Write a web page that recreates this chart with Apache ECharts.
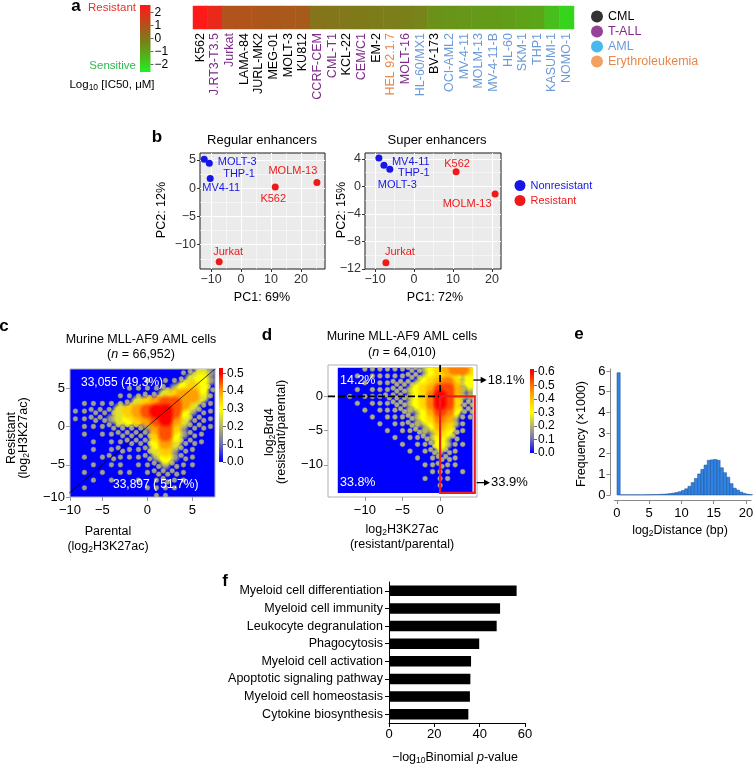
<!DOCTYPE html>
<html><head><meta charset="utf-8">
<script src="https://cdn.jsdelivr.net/npm/echarts@6.0.0/dist/echarts.min.js"></script>
<style>html,body{margin:0;padding:0;background:#fff;}#chart{width:754px;height:767px;}</style>
</head><body><div id="chart"></div>
<script>
// ================= DATA =================
// Panel a
const aCellLines = ['K562','J.RT3-T3.5','Jurkat','LAMA-84','JURL-MK2','MEG-01','MOLT-3','KU812','CCRF-CEM','CML-T1','KCL-22','CEM/C1','EM-2','HEL 92.1.7','MOLT-16','HL-60/MX1','BV-173','OCI-AML2','MV-4-11','MOLM-13','MV-4-11-B','HL-60','SKM-1','THP1','KASUMI-1','NOMO-1'];
const aLog10IC50 = [2.5,2.1,1.0,0.95,0.9,0.85,0.8,0.75,0.1,0.05,0.0,-0.05,-0.1,-0.15,-0.2,-0.3,-0.6,-0.7,-0.75,-0.8,-0.85,-0.9,-1.0,-1.1,-1.6,-2.0];
const aSubtype = ['CML','T-ALL','T-ALL','CML','CML','CML','CML','CML','T-ALL','T-ALL','CML','T-ALL','CML','Erythroleukemia','T-ALL','AML','CML','AML','AML','AML','AML','AML','AML','AML','AML','AML'];
const aSubtypeNames = ['CML','T-ALL','AML','Erythroleukemia'];
const aBarTicks = [2,1,0,-1,-2];

// Panel b
const bRegNames = ['THP-1','MOLT-3','MV4-11','MOLM-13','K562','Jurkat'];
const bRegPC1 = [-12.3,-10.6,-10.3,25.3,11.4,-7.3];
const bRegPC2 = [5.1,4.4,1.7,1.0,0.2,-13.0];
const bRegGroup = ['Nonresistant','Nonresistant','Nonresistant','Resistant','Resistant','Resistant'];
const bSupNames = ['MV4-11','THP-1','MOLT-3','K562','MOLM-13','Jurkat'];
const bSupPC1 = [-9.0,-7.7,-6.2,10.8,20.8,-7.2];
const bSupPC2 = [4.15,3.1,2.5,2.15,-1.1,-11.1];
const bSupGroup = ['Nonresistant','Nonresistant','Nonresistant','Resistant','Resistant','Resistant'];

// Panel c : density (levels 0-9), rows top (y=7) to bottom (y=-9)
const cXCenters = [-8,-7,-6,-5,-4,-3,-2,-1,0,1,2,3,4,5,6,7];
const cYCenters = [7,6,5,4,3,2,1,0,-1,-2,-3,-4,-5,-6,-7,-8,-9];
const cDensityRows = [
  '0000000000001243',
  '0000000010112453',
  '0000001111235652',
  '0000011122467741',
  '0111112467887421',
  '1122246789985321',
  '1122345678974221',
  '0111222237863221',
  '0101122226853210',
  '0010112225742210',
  '0010121124632100',
  '0101211123532100',
  '0010110112321100',
  '0101011012221000',
  '0010100101211000',
  '0100000011110000',
  '0000000001100000'
];
const cLevelValue = [0,0.05,0.1,0.2,0.26,0.3,0.35,0.4,0.45,0.5];
const cXTicks = [-10,-5,0,5];
const cYTicks = [5,0,-5,-10];
const cBarTicks = [0,0.1,0.2,0.3,0.4,0.5];
const cCounts = ['33,055 (49.3%)','33,897 ( 51.7%)'];
const cIdentity = [-10,10];

// Panel d : density rows top (y=4) to bottom (y=-14), columns x=-13..4
const dXCenters = [-13,-12,-11,-10,-9,-8,-7,-6,-5,-4,-3,-2,-1,0,1,2,3,4];
const dYCenters = [4,3,2,1,0,-1,-2,-3,-4,-5,-6,-7,-8,-9,-10,-11,-12,-13,-14];
const dDensityRows = [
  '000111111223456775',
  '001011111223455434',
  '000101122234567534',
  '001011122345688633',
  '010111222345798533',
  '001011122345798522',
  '000101112334687422',
  '000010111234576311',
  '000001011233465310',
  '000000101123354210',
  '000000010112343200',
  '000000001011243110',
  '000000000101232100',
  '000000000010122100',
  '000000000001121100',
  '000000000000111010',
  '000000000001011000',
  '000000000000010000',
  '000000000000000000'
];
const dLevelValue = [0,0.06,0.12,0.24,0.3,0.36,0.42,0.48,0.54,0.6];
const dXTicks = [-10,-5,0];
const dYTicks = [0,-5,-10];
const dBarTicks = [0,0.1,0.2,0.3,0.4,0.5,0.6];
const dCornerPct = ['14.2%','33.8%'];
const dArrowPct = ['18.1%','33.9%'];

// Panel e : histogram, bin width 0.5
const eBinWidth = 0.5;
const eBinStart = [0,0.5,1,1.5,2,2.5,3,3.5,4,4.5,5,5.5,6,6.5,7,7.5,8,8.5,9,9.5,10,10.5,11,11.5,12,12.5,13,13.5,14,14.5,15,15.5,16,16.5,17,17.5,18,18.5,19,19.5,20,20.5];
const eFreq = [5.92,0.01,0.01,0.01,0.01,0.01,0.01,0.01,0.01,0.015,0.015,0.02,0.025,0.03,0.04,0.05,0.07,0.09,0.12,0.16,0.22,0.3,0.42,0.6,0.8,1.02,1.24,1.45,1.68,1.7,1.72,1.68,1.32,1.08,0.86,0.55,0.33,0.24,0.14,0.08,0.04,0.02];
const eXTicks = [0,5,10,15,20];
const eYTicks = [0,1,2,3,4,5,6];

// Panel f
const fTerms = ['Myeloid cell differentiation','Myeloid cell immunity','Leukocyte degranulation','Phagocytosis','Myeloid cell activation','Apoptotic signaling pathway','Myeloid cell homeostasis','Cytokine biosynthesis'];
const fNegLog10P = [56.3,49.0,47.5,39.8,36.2,35.9,35.7,35.0];

// ================= STYLE / LAYOUT =================
const FONT = '"Liberation Sans", Arial, Helvetica, sans-serif';
const minus = v => (v < 0 ? '\u2212' + String(Math.abs(v)) : String(v));
const clamp = (v, lo, hi) => Math.min(hi, Math.max(lo, v));
function tickSet(ticks, range, fmt) {
  const pos = ticks.map(t => clamp(t, range[0], range[1]));
  return { pos, fmt: v => { let b = 0; pos.forEach((p, i) => { if (Math.abs(p - v) < Math.abs(pos[b] - v)) b = i; }); return (fmt || minus)(ticks[b]); } };
}

const R = {
  aBar: { y: [-2.6, 2.6] },
  bReg: { x: [-13.7, 28], y: [-14.3, 6.2] },
  bSup: { x: [-12.56, 22.31], y: [-12, 4.87] },
  c: { x: [-8.6, 7.5], y: [-9.2, 7.5] },
  cBar: { y: [0, 0.53] },
  dFrame: { x: [-14.9, 4.9], y: [-14.7, 4.6] },
  dBlue: { x: [-13.6, 4.3], y: [-14.1, 4.2] },
  dBar: { y: [0, 0.62] },
  e: { x: [-0.4, 20.8], y: [0, 6.1] },
  f: { x: [0, 60] }
};
const G = {
  aHeat: { left: 193, top: 6, width: 381, height: 23 },
  aBar: { left: 140, top: 5, width: 10.5, height: 67 },
  bReg: { left: 200, top: 153, width: 125, height: 116 },
  bSup: { left: 365, top: 153, width: 136, height: 116 },
  c: { left: 70, top: 369, width: 145, height: 128 },
  cBar: { left: 219, top: 368, width: 4, height: 94 },
  dFrame: { left: 328, top: 365, width: 149, height: 132 },
  dBar: { left: 530, top: 369, width: 4, height: 84 },
  e: { left: 614.4, top: 369, width: 136.7, height: 126 },
  f: { left: 389, top: 582, width: 136, height: 141 }
};
(function () {
  const f = G.dFrame, rx = R.dFrame.x, ry = R.dFrame.y, bx = R.dBlue.x, by = R.dBlue.y;
  const kx = f.width / (rx[1] - rx[0]), ky = f.height / (ry[1] - ry[0]);
  G.dBlue = { left: f.left + (bx[0] - rx[0]) * kx, top: f.top + (ry[1] - by[1]) * ky, width: (bx[1] - bx[0]) * kx, height: (by[1] - by[0]) * ky };
})();

const aStops = [[-2.5,'#22ee22'],[-1.25,'#56ac18'],[0,'#80781a'],[1.25,'#bf481c'],[2.5,'#ff1a1a']];
const cColors = ['#0000ff','#6e6eb4','#b4b46e','#ffff00','#ffa000','#ff0000'];
const dColors = ['#0000ff','#6e6eb4','#b4b46e','#ffff00','#ffc000','#ff7000','#ff0000'];
const subtypeLabelColor = { 'CML': '#000000', 'T-ALL': '#7f2a8a', 'AML': '#6a9ad8', 'Erythroleukemia': '#e8874a' };
const subtypeDotColor = { 'CML': '#000000', 'T-ALL': '#7d127d', 'AML': '#18a8ea', 'Erythroleukemia': '#ef8a3e' };
const bColor = { 'Nonresistant': '#1616e8', 'Resistant': '#ee1a1a' };
const bLabelPlacement = {
  reg: { 'THP-1': ['right', [10.5, 15]], 'MOLT-3': ['right', [0, -1]], 'MV4-11': ['bottom', [11, -4]], 'MOLM-13': ['top', [-24, 3]], 'K562': ['bottom', [-2, -2]], 'Jurkat': ['top', [9, 4]] },
  sup: { 'MV4-11': ['right', [4.5, 4]], 'THP-1': ['right', [5.5, 8]], 'MOLT-3': ['bottom', [7.5, 1.5]], 'K562': ['top', [1, 6]], 'MOLM-13': ['bottom', [-28, -4.5]], 'Jurkat': ['top', [14, 3.5]] }
};

// ================= BUILDERS =================
function gridOf(g, extra) { return Object.assign({ containLabel: false, outerBoundsMode: 'none', show: false, z: 0 }, g, extra || {}); }
function hiddenVal(gi, range) { return { type: 'value', gridIndex: gi, min: range[0], max: range[1], show: false, axisLine: { show: false, onZero: false }, splitLine: { show: false } }; }

function densityData(rows, xs, ys, lvVal) {
  const out = [];
  rows.forEach((row, r) => { for (let k = 0; k < row.length; k++) { const lv = +row[k]; if (lv > 0) out.push([xs[k], ys[r], lvVal[lv], lv]); } });
  return out.sort((a, b) => a[3] - b[3]);
}
function densityRender(dotFill, dotStroke) {
  return function (params, api) {
    const x = api.value(0), y = api.value(1), lv = api.value(3);
    const c = api.coord([x, y]);
    const s = api.size([1, 1]);
    if (lv <= 2) {
      const offs = lv === 1 ? [[0, 0]] : [[-0.25, -0.22], [0.25, 0.22]];
      return { type: 'group', children: offs.map(o => ({ type: 'circle', shape: { cx: c[0] + o[0] * s[0], cy: c[1] + o[1] * s[1], r: 2.4 }, style: { fill: dotFill, stroke: dotStroke, lineWidth: 0.7 } })) };
    }
    const col = api.visual('color');
    const k = lv === 3 ? 0.85 : 1.25;
    const clear = echarts.color.modifyAlpha(col, 0);
    const fill = { type: 'radial', x: 0.5, y: 0.5, r: 0.5, colorStops: [
      { offset: 0, color: col }, { offset: lv === 3 ? 0.35 : 0.5, color: col }, { offset: 1, color: clear } ] };
    return { type: 'ellipse', shape: { cx: c[0], cy: c[1], rx: s[0] * k, ry: s[1] * k }, style: { fill, opacity: lv === 3 ? 0.85 : 1 } };
  };
}
function colorbarRender(stops, vmin, vmax) {
  return function (params, api) {
    const p0 = api.coord([0, vmax]), p1 = api.coord([1, vmin]);
    const colorStops = stops.map(s => ({ offset: clamp((vmax - s[0]) / (vmax - vmin), 0, 1), color: s[1] })).sort((a, b) => a.offset - b.offset);
    colorStops.unshift({ offset: 0, color: colorStops[0].color });
    colorStops.push({ offset: 1, color: colorStops[colorStops.length - 1].color });
    return { type: 'rect', shape: { x: p0[0], y: p0[1], width: p1[0] - p0[0], height: p1[1] - p0[1] }, style: { fill: { type: 'linear', x: 0, y: 0, x2: 0, y2: 1, colorStops } } };
  };
}
const evenStops = (cols, vmin, vmax) => cols.map((c, i) => [vmin + (vmax - vmin) * i / (cols.length - 1), c]);

function barAxis(gi, range, ticks, fmt) {
  return { type: 'value', gridIndex: gi, min: range[0], max: range[1], position: 'right', z: 1,
    axisLine: { show: false, onZero: false }, splitLine: { show: false },
    axisTick: { show: true, length: 3, lineStyle: { color: '#666' }, customValues: ticks },
    axisLabel: { show: true, customValues: ticks, formatter: fmt, fontSize: 12, fontFamily: FONT, color: '#000', margin: 4 } };
}
function bAxis(gi, range, extra, showMin) {
  return Object.assign({ type: 'value', gridIndex: gi, min: range[0], max: range[1], splitNumber: 4, z: 1,
    axisLine: { show: false, onZero: false },
    axisTick: { show: true, length: 3, lineStyle: { color: '#333' } },
    axisLabel: { show: true, fontSize: 12.5, fontFamily: FONT, color: '#333', margin: 4, showMinLabel: !!showMin, showMaxLabel: false, formatter: minus },
    splitLine: { show: true, showMinLine: false, showMaxLine: false, lineStyle: { color: '#fff', width: 1 } },
    minorTick: { show: false, splitNumber: 2 },
    minorSplitLine: { show: true, lineStyle: { color: '#fff', width: 0.5 } } }, extra || {});
}
function tickAxis(gi, range, ts, opts) {
  return Object.assign({ type: 'value', gridIndex: gi, min: range[0], max: range[1], z: 1,
    axisLine: { show: false, onZero: false }, splitLine: { show: false },
    axisTick: { show: true, length: 4, lineStyle: { color: '#999' }, customValues: ts.pos },
    axisLabel: { show: true, customValues: ts.pos, formatter: ts.fmt, fontSize: 13, fontFamily: FONT, color: '#000', margin: 7 } }, opts || {});
}

const cx = tickSet(cXTicks, R.c.x), cy = tickSet(cYTicks, R.c.y);
const dx = tickSet(dXTicks, R.dFrame.x), dy = tickSet(dYTicks, R.dFrame.y);
const ex = tickSet(eXTicks, R.e.x), ey = tickSet(eYTicks, R.e.y);

// d annotation geometry (in data units of the d frame)
const dRedBox = { x0: 0, x1: 4.6, y0: R.dBlue.y[0], y1: 0 };
const dArrows = [{ y: 2.4, x0: 4.41, x1: 6.19, label: dArrowPct[0] }, { y: -12.6, x0: 4.87, x1: 6.63, label: dArrowPct[1] }];
function dGuides(params, api) {
  const o = api.coord([0, 0]);
  const tl = api.coord([R.dFrame.x[0], R.dFrame.y[1]]);
  const rb = api.coord([dRedBox.x1, dRedBox.y0]);
  const dash = { stroke: '#000', lineWidth: 1.8, lineDash: [7, 3] };
  const ch = [
    { type: 'line', shape: { x1: tl[0], y1: o[1], x2: o[0], y2: o[1] }, style: dash },
    { type: 'line', shape: { x1: o[0], y1: tl[1], x2: o[0], y2: o[1] }, style: dash },
    { type: 'rect', shape: { x: o[0], y: o[1], width: rb[0] - o[0], height: rb[1] - o[1] }, style: { fill: 'transparent', stroke: '#ee1c1c', lineWidth: 2.2 } }
  ];
  dArrows.forEach(a => {
    const p1 = api.coord([a.x0, a.y]), p2 = api.coord([a.x1, a.y]);
    ch.push({ type: 'line', shape: { x1: p1[0], y1: p1[1], x2: p2[0] - 4, y2: p2[1] }, style: { stroke: '#000', lineWidth: 1.3 } });
    ch.push({ type: 'polygon', shape: { points: [[p2[0], p2[1]], [p2[0] - 6, p2[1] - 3.2], [p2[0] - 6, p2[1] + 3.2]] }, style: { fill: '#000' } });
    ch.push({ type: 'text', x: p2[0] + 1, y: p2[1], style: { text: a.label, fill: '#000', fontSize: 13, fontFamily: FONT, align: 'left', verticalAlign: 'middle' } });
  });
  return { type: 'group', children: ch };
}

function bSeries(names, pc1, pc2, groups, xi, yi, placement) {
  return ['Nonresistant', 'Resistant'].map(g => ({
    type: 'scatter', name: g, xAxisIndex: xi, yAxisIndex: yi, symbolSize: 7, silent: true, z: 3,
    itemStyle: { color: bColor[g], opacity: 1 },
    label: { show: true, formatter: '{b}', color: bColor[g], fontSize: 11, fontFamily: FONT },
    data: names.map((n, i) => i).filter(i => groups[i] === g).map(i => ({ name: names[i], value: [pc1[i], pc2[i]], label: { position: placement[names[i]][0], offset: placement[names[i]][1] } }))
  }));
}

// ================= TEXTS =================
const SUB = { fontSize: 8.5, fontFamily: FONT, padding: [6, 0, 0, 0] };
function T(x, y, text, o) {
  o = o || {};
  const size = o.size || 12.5;
  return { type: 'text', x, y, rotation: o.rot || 0, silent: true, z: 100,
    style: { text, fill: o.color || '#000', fontSize: size, fontFamily: FONT, fontWeight: o.weight || 'normal',
      align: o.align || 'center', verticalAlign: 'middle',
      rich: { s: SUB, i: { fontSize: size, fontFamily: FONT, fontStyle: 'italic' } } } };
}
const ROT = Math.PI / 2;
const texts = [
  T(76, 6, 'a', { size: 17, weight: 'bold' }), T(157, 137, 'b', { size: 17, weight: 'bold' }), T(4, 326, 'c', { size: 17, weight: 'bold' }),
  T(267, 335, 'd', { size: 17, weight: 'bold' }), T(579, 334, 'e', { size: 17, weight: 'bold' }), T(225, 581, 'f', { size: 17, weight: 'bold' }),
  T(136, 8, 'Resistant', { align: 'right', color: '#e8302a', size: 11.5 }),
  T(136, 66, 'Sensitive', { align: 'right', color: '#2fb84e', size: 11.5 }),
  T(112, 85, 'Log{s|10} [IC50, \u03bcM]', { size: 11.5 }),
  T(262, 140, 'Regular enhancers', { size: 13 }), T(437, 140, 'Super enhancers', { size: 13 }),
  T(262, 298, 'PC1: 69%'), T(435, 298, 'PC1: 72%'),
  T(162, 210, 'PC2: 12%', { rot: ROT }), T(342, 210, 'PC2: 15%', { rot: ROT }),
  T(141, 340, 'Murine MLL-AF9 AML cells'), T(141, 355, '({i|n} = 66,952)'),
  T(81, 383, cCounts[0], { align: 'left', color: '#fff', size: 12 }), T(113, 485, cCounts[1], { align: 'left', color: '#fff', size: 12 }),
  T(12, 438, 'Resistant', { rot: ROT }), T(24, 438, '(log{s|2}H3K27ac)', { rot: ROT }),
  T(108, 532, 'Parental'), T(108, 547, '(log{s|2}H3K27ac)'),
  T(402, 337, 'Murine MLL-AF9 AML cells'), T(402, 353, '({i|n} = 64,010)'),
  T(340, 381, dCornerPct[0], { align: 'left', color: '#fff', size: 12.5 }), T(340, 483, dCornerPct[1], { align: 'left', color: '#fff', size: 12.5 }),
  T(270, 432, 'log{s|2}Brd4', { rot: ROT }), T(282, 432, '(resistant/parental)', { rot: ROT }),
  T(402, 530, 'log{s|2}H3K27ac'), T(402, 545, '(resistant/parental)'),
  T(582, 434, 'Frequency (\u00d71000)', { rot: ROT }), T(680, 531, 'log{s|2}Distance (bp)'),
  T(455, 758, '\u2212log{s|10}Binomial {i|p}-value')
];

// ================= OPTION =================
const option = {
  animation: false,
  backgroundColor: '#fff',
  textStyle: { fontFamily: FONT },
  grid: [
    gridOf(G.aHeat), gridOf(G.aBar),
    gridOf(G.bReg, { show: true, backgroundColor: '#ebebeb', borderColor: '#1a1a1a', borderWidth: 1 }),
    gridOf(G.bSup, { show: true, backgroundColor: '#ebebeb', borderColor: '#1a1a1a', borderWidth: 1 }),
    gridOf(G.c, { show: true, backgroundColor: '#0000ff', borderColor: '#b0b0b0', borderWidth: 1 }),
    gridOf(G.cBar),
    gridOf(G.dFrame, { show: true, backgroundColor: '#fff', borderColor: '#b0b0b0', borderWidth: 1 }),
    gridOf(G.dBlue, { show: true, backgroundColor: '#0000ff', borderWidth: 0 }),
    gridOf(G.dBar), gridOf(G.e), gridOf(G.f)
  ],
  xAxis: [
    { type: 'category', gridIndex: 0, data: aCellLines, position: 'bottom', axisLine: { show: false, onZero: false }, axisTick: { show: false }, splitLine: { show: false },
      axisLabel: { rotate: 90, interval: 0, fontSize: 12.5, fontFamily: FONT, margin: 4, color: (v, i) => subtypeLabelColor[aSubtype[i !== undefined ? i : aCellLines.indexOf(v)]] } },
    hiddenVal(1, [0, 1]),
    bAxis(2, R.bReg.x), bAxis(3, R.bSup.x),
    tickAxis(4, R.c.x, cx),
    hiddenVal(5, [0, 1]),
    tickAxis(6, R.dFrame.x, dx),
    hiddenVal(7, R.dBlue.x),
    hiddenVal(8, [0, 1]),
    tickAxis(9, R.e.x, ex, { offset: 5, axisLine: { show: true, onZero: false, lineStyle: { color: '#888' } }, axisTick: { show: true, length: 4, lineStyle: { color: '#888' }, customValues: ex.pos } }),
    { type: 'value', gridIndex: 10, min: 0, max: 60, interval: 20, splitLine: { show: false },
      axisLine: { show: true, onZero: false, lineStyle: { color: '#000' } }, axisTick: { show: true, length: 4, lineStyle: { color: '#000' } },
      axisLabel: { fontSize: 13, fontFamily: FONT, color: '#000', margin: 5 } }
  ],
  yAxis: [
    { type: 'category', gridIndex: 0, data: [''], show: false, axisLine: { show: false, onZero: false } },
    barAxis(1, R.aBar.y, aBarTicks, minus),
    bAxis(2, R.bReg.y), bAxis(3, R.bSup.y, { interval: 4 }, true),
    tickAxis(4, R.c.y, cy, { axisLabel: { show: true, customValues: cy.pos, formatter: cy.fmt, fontSize: 13, fontFamily: FONT, color: '#000', margin: 5 } }),
    barAxis(5, R.cBar.y, cBarTicks, v => v.toFixed(1)),
    tickAxis(6, R.dFrame.y, dy, { axisLabel: { show: true, customValues: dy.pos, formatter: dy.fmt, fontSize: 13, fontFamily: FONT, color: '#000', margin: 5 } }),
    hiddenVal(7, R.dBlue.y),
    barAxis(8, R.dBar.y, dBarTicks, v => v.toFixed(1)),
    tickAxis(9, R.e.y, ey, { offset: 4, axisLine: { show: true, onZero: false, lineStyle: { color: '#888' } }, axisTick: { show: true, length: 4, lineStyle: { color: '#888' }, customValues: ey.pos },
      axisLabel: { show: true, customValues: ey.pos, formatter: ey.fmt, fontSize: 13, fontFamily: FONT, color: '#000', margin: 5 } }),
    { type: 'category', gridIndex: 10, data: fTerms, inverse: true,
      axisLine: { show: true, onZero: false, lineStyle: { color: '#000' } }, axisTick: { show: true, alignWithLabel: true, length: 4, lineStyle: { color: '#000' } },
      axisLabel: { fontSize: 12.5, fontFamily: FONT, color: '#000', margin: 6 } }
  ],
  visualMap: [
    { type: 'continuous', show: false, seriesIndex: 0, dimension: 2, min: -2.5, max: 2.5, inRange: { color: aStops.map(s => s[1]) } },
    { type: 'continuous', show: false, seriesIndex: 10, dimension: 2, min: 0, max: 0.5, inRange: { color: cColors } },
    { type: 'continuous', show: false, seriesIndex: 13, dimension: 2, min: 0, max: 0.6, inRange: { color: dColors } }
  ],
  legend: [
    { orient: 'vertical', left: 586, top: 5, itemWidth: 12, itemHeight: 12, itemGap: 2, icon: 'circle', selectedMode: false,
      textStyle: { fontSize: 12.5, fontFamily: FONT },
      data: aSubtypeNames.map(n => ({ name: n, itemStyle: { color: subtypeDotColor[n] }, textStyle: { color: subtypeLabelColor[n] } })) },
    { orient: 'vertical', left: 509.5, top: 175, itemWidth: 11, itemHeight: 11, itemGap: 4, icon: 'circle', selectedMode: false,
      textStyle: { fontSize: 11, fontFamily: FONT },
      data: ['Nonresistant', 'Resistant'].map(n => ({ name: n, textStyle: { color: bColor[n] } })) }
  ],
  graphic: { elements: texts },
  series: [
    { type: 'heatmap', xAxisIndex: 0, yAxisIndex: 0, silent: true, data: aLog10IC50.map((v, i) => [i, 0, v]), itemStyle: { borderWidth: 0 } },
    ...aSubtypeNames.map(n => ({ type: 'scatter', name: n, xAxisIndex: 0, yAxisIndex: 0, data: [], itemStyle: { color: subtypeDotColor[n] } })),
    { type: 'custom', xAxisIndex: 1, yAxisIndex: 1, silent: true, data: [[0, 0]], renderItem: colorbarRender(aStops, R.aBar.y[0], R.aBar.y[1]) },
    ...bSeries(bRegNames, bRegPC1, bRegPC2, bRegGroup, 2, 2, bLabelPlacement.reg),
    ...bSeries(bSupNames, bSupPC1, bSupPC2, bSupGroup, 3, 3, bLabelPlacement.sup),
    { type: 'custom', xAxisIndex: 4, yAxisIndex: 4, silent: true, clip: true, z: 2, dimensions: ['x', 'y', 'dens', 'lv'], encode: { x: 0, y: 1 },
      data: densityData(cDensityRows, cXCenters, cYCenters, cLevelValue), renderItem: densityRender('rgba(200,196,120,0.8)', 'rgba(140,140,120,0.7)') },
    { type: 'line', xAxisIndex: 4, yAxisIndex: 4, silent: true, clip: true, z: 3, symbol: 'none', data: [[cIdentity[0], cIdentity[0]], [cIdentity[1], cIdentity[1]]], lineStyle: { color: '#000', width: 0.7 } },
    { type: 'custom', xAxisIndex: 5, yAxisIndex: 5, silent: true, data: [[0, 0]], renderItem: colorbarRender(evenStops(cColors, 0, 0.5), R.cBar.y[0], R.cBar.y[1]) },
    { type: 'custom', xAxisIndex: 7, yAxisIndex: 7, silent: true, clip: true, z: 2, dimensions: ['x', 'y', 'dens', 'lv'], encode: { x: 0, y: 1 },
      data: densityData(dDensityRows, dXCenters, dYCenters, dLevelValue), renderItem: densityRender('rgba(205,200,110,0.85)', 'rgba(140,140,150,0.8)') },
    { type: 'custom', xAxisIndex: 6, yAxisIndex: 6, silent: true, z: 10, data: [[0, 0]], renderItem: dGuides },
    { type: 'custom', xAxisIndex: 8, yAxisIndex: 8, silent: true, data: [[0, 0]], renderItem: colorbarRender(evenStops(dColors, 0, 0.6), R.dBar.y[0], R.dBar.y[1]) },
    { type: 'custom', xAxisIndex: 9, yAxisIndex: 9, silent: true, data: eBinStart.map((s, i) => [s, eFreq[i]]),
      renderItem: (params, api) => { const p0 = api.coord([api.value(0), api.value(1)]); const p1 = api.coord([api.value(0) + eBinWidth, 0]);
        return { type: 'rect', shape: { x: p0[0], y: p0[1], width: p1[0] - p0[0], height: p1[1] - p0[1] }, style: { fill: '#2f84e6', stroke: '#1d4d8f', lineWidth: 0.5 } }; } },
    { type: 'bar', xAxisIndex: 10, yAxisIndex: 10, silent: true, data: fNegLog10P, barWidth: 10.5, itemStyle: { color: '#000' } }
  ]
};

const chart = echarts.init(document.getElementById('chart'), null, { renderer: 'canvas' });
chart.setOption(option);
</script>
</body></html>
